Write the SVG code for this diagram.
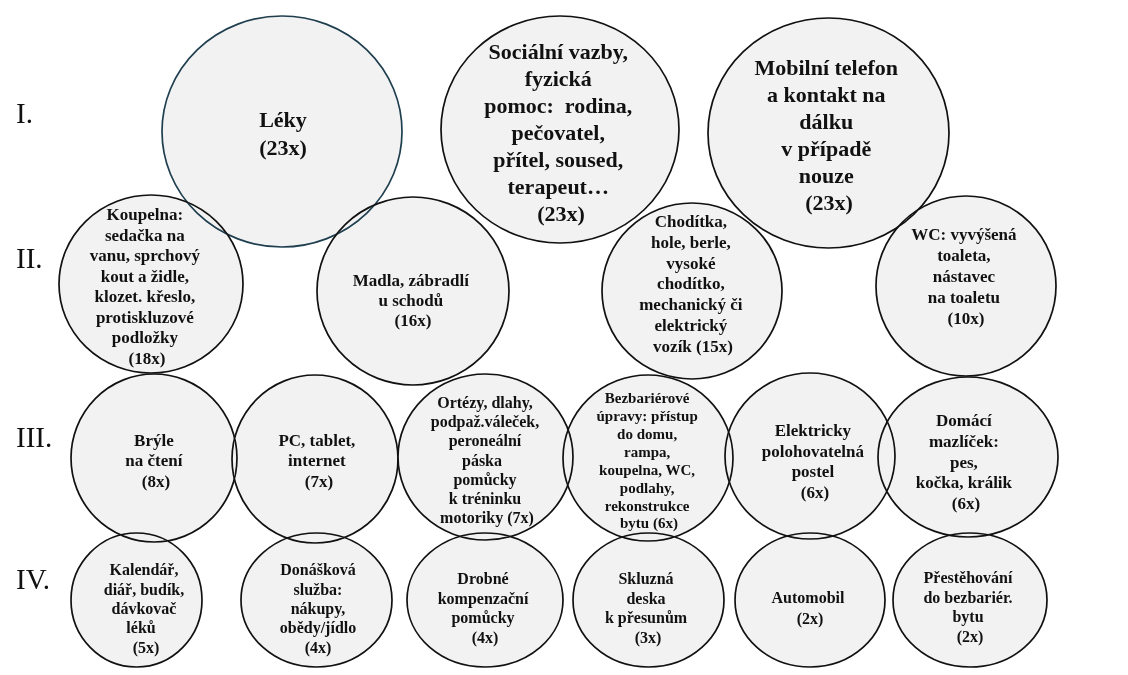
<svg xmlns="http://www.w3.org/2000/svg" width="1128" height="675" viewBox="0 0 1128 675">
  <style>
    .bub { fill: #f2f2f2; stroke: #111; stroke-width: 1.7; mix-blend-mode: darken; }
    .bub.teal { stroke: #1f3f4f; }
    .t { font-family: "Liberation Serif", "Times New Roman", serif; font-weight: bold; fill: #111; text-anchor: middle; }
    .xl { font-size: 22px; }
    .l { font-size: 17px; }
    .m { font-size: 16px; }
    .s { font-size: 15px; }
    .lvl { font-family: "Liberation Serif", "Times New Roman", serif; font-size: 29px; fill: #111; }
  </style>
  <rect width="1128" height="675" fill="#fff"/>

  <!-- level labels -->
  <g id="levels">
    <text class="lvl" x="16" y="123">I.</text>
    <text class="lvl" x="16" y="268">II.</text>
    <text class="lvl" x="16" y="447">III.</text>
    <text class="lvl" x="16" y="589">IV.</text>
  </g>

  <!-- no connectors in this chart -->
  <g id="connectors"/>

  <!-- level I -->
  <g id="n-leky">
    <ellipse class="bub teal" cx="282" cy="131.5" rx="120" ry="115.5"/>
    <text class="t xl"><tspan x="283" y="127">Léky</tspan><tspan x="283" y="155">(23x)</tspan></text>
  </g>
  <g id="n-socialni">
    <ellipse class="bub" cx="560" cy="129.5" rx="119" ry="113.5"/>
    <text class="t xl">
      <tspan x="561" y="59">Sociální vazby,</tspan>
      <tspan x="561" y="86">fyzická</tspan>
      <tspan x="561" y="113">pomoc:&#160; rodina,</tspan>
      <tspan x="561" y="140">pečovatel,</tspan>
      <tspan x="561" y="167">přítel, soused,</tspan>
      <tspan x="561" y="194">terapeut…</tspan>
      <tspan x="561" y="221">(23x)</tspan>
    </text>
  </g>
  <g id="n-mobil">
    <ellipse class="bub" cx="828.5" cy="133" rx="120.5" ry="115"/>
    <text class="t xl">
      <tspan x="829" y="75">Mobilní telefon</tspan>
      <tspan x="829" y="102">a kontakt na</tspan>
      <tspan x="829" y="129">dálku</tspan>
      <tspan x="829" y="156">v případě</tspan>
      <tspan x="829" y="183">nouze</tspan>
      <tspan x="829" y="210">(23x)</tspan>
    </text>
  </g>

  <!-- level II -->
  <g id="n-koupelna">
    <ellipse class="bub" cx="151" cy="284" rx="92" ry="89"/>
    <text class="t l">
      <tspan x="147" y="220">Koupelna:</tspan>
      <tspan x="147" y="240.5">sedačka na</tspan>
      <tspan x="147" y="261">vanu, sprchový</tspan>
      <tspan x="147" y="281.5">kout a židle,</tspan>
      <tspan x="147" y="302">klozet. křeslo,</tspan>
      <tspan x="147" y="322.5">protiskluzové</tspan>
      <tspan x="147" y="343">podložky</tspan>
      <tspan x="147" y="363.5">(18x)</tspan>
    </text>
  </g>
  <g id="n-madla">
    <ellipse class="bub" cx="413" cy="291" rx="96" ry="94"/>
    <text class="t l">
      <tspan x="413" y="286">Madla, zábradlí</tspan>
      <tspan x="413" y="306">u schodů</tspan>
      <tspan x="413" y="326">(16x)</tspan>
    </text>
  </g>
  <g id="n-choditka">
    <ellipse class="bub" cx="692" cy="291" rx="90" ry="88"/>
    <text class="t l">
      <tspan x="693" y="227">Chodítka,</tspan>
      <tspan x="693" y="248">hole, berle,</tspan>
      <tspan x="693" y="268.5">vysoké</tspan>
      <tspan x="693" y="289">chodítko,</tspan>
      <tspan x="693" y="310">mechanický či</tspan>
      <tspan x="693" y="331">elektrický</tspan>
      <tspan x="693" y="352">vozík (15x)</tspan>
    </text>
  </g>
  <g id="n-wc">
    <ellipse class="bub" cx="966" cy="286" rx="90" ry="90"/>
    <text class="t l">
      <tspan x="966" y="240">WC: vyvýšená</tspan>
      <tspan x="966" y="261">toaleta,</tspan>
      <tspan x="966" y="282">nástavec</tspan>
      <tspan x="966" y="303">na toaletu</tspan>
      <tspan x="966" y="324">(10x)</tspan>
    </text>
  </g>

  <!-- level III -->
  <g id="n-bryle">
    <ellipse class="bub" cx="154" cy="458" rx="83" ry="84"/>
    <text class="t l">
      <tspan x="156" y="446">Brýle</tspan>
      <tspan x="156" y="466">na čtení</tspan>
      <tspan x="156" y="487">(8x)</tspan>
    </text>
  </g>
  <g id="n-pc">
    <ellipse class="bub" cx="315" cy="459" rx="83" ry="84"/>
    <text class="t l">
      <tspan x="319" y="446">PC, tablet,</tspan>
      <tspan x="319" y="466">internet</tspan>
      <tspan x="319" y="487">(7x)</tspan>
    </text>
  </g>
  <g id="n-ortezy">
    <ellipse class="bub" cx="485.5" cy="457" rx="87.5" ry="83"/>
    <text class="t m">
      <tspan x="487" y="408">Ortézy, dlahy,</tspan>
      <tspan x="487" y="427">podpaž.váleček,</tspan>
      <tspan x="487" y="446">peroneální</tspan>
      <tspan x="484" y="466">páska</tspan>
      <tspan x="487" y="485">pomůcky</tspan>
      <tspan x="487" y="504">k tréninku</tspan>
      <tspan x="487" y="523">motoriky (7x)</tspan>
    </text>
  </g>
  <g id="n-bezbarier">
    <ellipse class="bub" cx="648" cy="458" rx="85" ry="83"/>
    <text class="t s">
      <tspan x="649" y="403">Bezbariérové</tspan>
      <tspan x="649" y="421">úpravy: přístup</tspan>
      <tspan x="649" y="439">do domu,</tspan>
      <tspan x="649" y="457">rampa,</tspan>
      <tspan x="649" y="475">koupelna, WC,</tspan>
      <tspan x="649" y="493">podlahy,</tspan>
      <tspan x="649" y="511">rekonstrukce</tspan>
      <tspan x="649" y="528">bytu (6x)</tspan>
    </text>
  </g>
  <g id="n-postel">
    <ellipse class="bub" cx="810" cy="456" rx="85" ry="83"/>
    <text class="t l">
      <tspan x="815" y="436">Elektricky</tspan>
      <tspan x="815" y="457">polohovatelná</tspan>
      <tspan x="815" y="477">postel</tspan>
      <tspan x="815" y="498">(6x)</tspan>
    </text>
  </g>
  <g id="n-mazlicek">
    <ellipse class="bub" cx="968" cy="457" rx="90" ry="80"/>
    <text class="t l">
      <tspan x="966" y="426">Domácí</tspan>
      <tspan x="966" y="447">mazlíček:</tspan>
      <tspan x="966" y="468">pes,</tspan>
      <tspan x="966" y="488">kočka, králik</tspan>
      <tspan x="966" y="509">(6x)</tspan>
    </text>
  </g>

  <!-- level IV -->
  <g id="n-kalendar">
    <ellipse class="bub" cx="136.5" cy="600" rx="65.5" ry="67"/>
    <text class="t m">
      <tspan x="146" y="575">Kalendář,</tspan>
      <tspan x="146" y="595">diář, budík,</tspan>
      <tspan x="146" y="614">dávkovač</tspan>
      <tspan x="143" y="633">léků</tspan>
      <tspan x="146" y="653">(5x)</tspan>
    </text>
  </g>
  <g id="n-donaska">
    <ellipse class="bub" cx="316.5" cy="600" rx="75.5" ry="67"/>
    <text class="t m">
      <tspan x="320" y="575">Donášková</tspan>
      <tspan x="320" y="595">služba:</tspan>
      <tspan x="320" y="614">nákupy,</tspan>
      <tspan x="320" y="633">obědy/jídlo</tspan>
      <tspan x="318" y="653">(4x)</tspan>
    </text>
  </g>
  <g id="n-drobne">
    <ellipse class="bub" cx="485" cy="600" rx="78" ry="67"/>
    <text class="t m">
      <tspan x="485" y="584">Drobné</tspan>
      <tspan x="485" y="604">kompenzační</tspan>
      <tspan x="485" y="623">pomůcky</tspan>
      <tspan x="485" y="643">(4x)</tspan>
    </text>
  </g>
  <g id="n-skluzna">
    <ellipse class="bub" cx="648.5" cy="600" rx="75.5" ry="67"/>
    <text class="t m">
      <tspan x="648" y="584">Skluzná</tspan>
      <tspan x="648" y="604">deska</tspan>
      <tspan x="648" y="623">k přesunům</tspan>
      <tspan x="648" y="643">(3x)</tspan>
    </text>
  </g>
  <g id="n-auto">
    <ellipse class="bub" cx="810" cy="600" rx="75" ry="67"/>
    <text class="t m">
      <tspan x="810" y="603">Automobil</tspan>
      <tspan x="810" y="624">(2x)</tspan>
    </text>
  </g>
  <g id="n-stehovani">
    <ellipse class="bub" cx="970" cy="600" rx="77" ry="67"/>
    <text class="t m">
      <tspan x="970" y="583">Přestěhování</tspan>
      <tspan x="970" y="603">do bezbariér.</tspan>
      <tspan x="970" y="622">bytu</tspan>
      <tspan x="970" y="642">(2x)</tspan>
    </text>
  </g>
</svg>
